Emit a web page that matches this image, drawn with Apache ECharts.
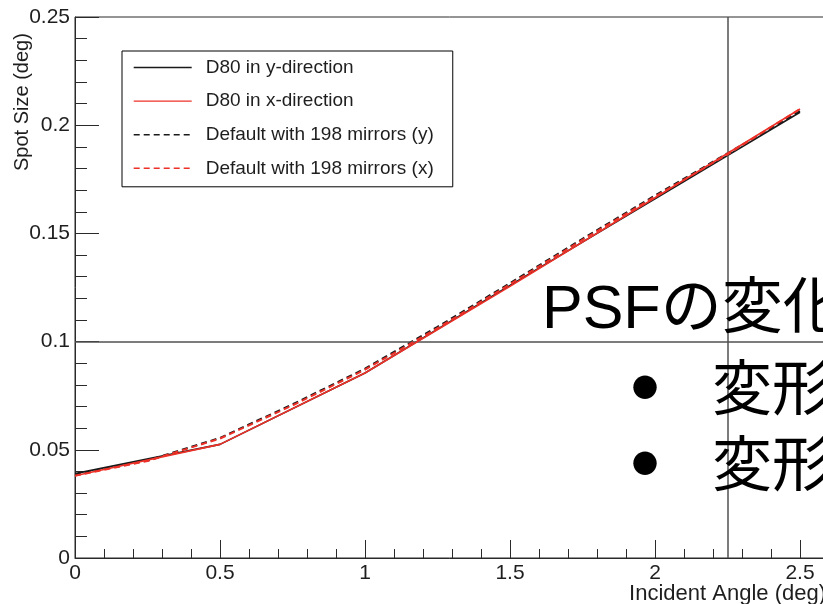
<!DOCTYPE html>
<html>
<head>
<meta charset="utf-8">
<script src="https://cdn.jsdelivr.net/npm/echarts@6/dist/echarts.min.js"></script>
<style>
html,body{margin:0;padding:0;background:#fff;}
#chart{width:823px;height:604px;}
</style>
</head>
<body>
<div id="chart"></div>
<script>
// ---- data ----
const seriesNames = ['D80 in y-direction', 'D80 in x-direction', 'Default with 198 mirrors (y)', 'Default with 198 mirrors (x)'];
const d80Angles = [0, 0.5, 1, 1.5, 2, 2.5];
const d80Y = [0.039, 0.0525, 0.0855, 0.126, 0.166, 0.206];
const d80X = [0.038, 0.0525, 0.0855, 0.1255, 0.1665, 0.2075];
const defAngles = [0, 0.25, 0.5, 0.75, 1, 1.25, 1.5, 1.75, 2, 2.25, 2.5];
const defY = [0.0385, 0.045, 0.0555, 0.071, 0.0875, 0.1068, 0.127, 0.1475, 0.1675, 0.187, 0.2065];
const defX = [0.038, 0.0448, 0.0552, 0.0705, 0.087, 0.1062, 0.1265, 0.147, 0.167, 0.1865, 0.2075];
const crossX = 2.25;
const crossY = 0.1;
const xTitle = 'Incident Angle (deg)';
const yTitle = 'Spot Size (deg)';
const overlayTitle = 'PSFの変化';
const overlayBullets = ['変形', '変形'];

const zip = (xs, ys) => xs.map((x, i) => [x, ys[i]]);
const BLACK = '#1a1a1a';
const RED = '#ee3128';
const FONT = "'Liberation Sans', Arial, sans-serif";

const chart = echarts.init(document.getElementById('chart'), null, {renderer: 'canvas'});

const axisCommon = {
  type: 'value',
  splitLine: {show: false},
  axisLine: {show: true, onZero: false, lineStyle: {color: '#2a2a2a', width: 1}},
};

const option = {
  animation: false,
  backgroundColor: '#ffffff',
  grid: {left: 75, top: 17, width: 870, height: 541, outerBoundsMode: 'none', containLabel: false,
    show: true, borderColor: '#2a2a2a', borderWidth: 1, backgroundColor: 'transparent'},
  xAxis: Object.assign({}, axisCommon, {
    min: 0, max: 3, interval: 0.5,
    axisTick: {show: true, inside: true, length: 18, lineStyle: {color: '#2a2a2a', width: 1}},
    minorTick: {show: true, splitNumber: 5, length: 9, lineStyle: {color: '#2a2a2a', width: 1}},
    axisLabel: {color: '#1e1e1e', fontSize: 21, fontFamily: FONT, margin: 5}
  }),
  yAxis: Object.assign({}, axisCommon, {
    min: 0, max: 0.25, interval: 0.05,
    axisTick: {show: true, inside: true, length: 24, lineStyle: {color: '#2a2a2a', width: 1}},
    minorTick: {show: true, splitNumber: 5, length: 12, lineStyle: {color: '#2a2a2a', width: 1}},
    axisLabel: {color: '#1e1e1e', fontSize: 21, fontFamily: FONT, margin: 5}
  }),
  legend: {
    data: seriesNames,
    orient: 'vertical',
    left: 122, top: 51,
    itemWidth: 58, itemHeight: 18, itemGap: 14.6,
    padding: [7, 19, 9, 11],
    borderColor: '#000', borderWidth: 1, borderRadius: 0,
    backgroundColor: '#fff',
    selectedMode: false,
    itemStyle: {opacity: 0, color: 'transparent', borderWidth: 0},
    lineStyle: {width: 1.4},
    textStyle: {fontSize: 19, color: '#1e1e1e', fontFamily: FONT, padding: [0, 0, 0, 9]}
  },
  series: [
    {
      name: seriesNames[0], type: 'line', data: zip(d80Angles, d80Y), symbol: 'none', z: 3,
      lineStyle: {color: BLACK, width: 1.6}, itemStyle: {color: BLACK},
      markLine: {
        silent: true, symbol: 'none', animation: false,
        label: {show: false},
        lineStyle: {color: '#505050', width: 1.5, type: 'solid'},
        data: [{xAxis: crossX}, {yAxis: crossY}]
      }
    },
    {
      name: seriesNames[1], type: 'line', data: zip(d80Angles, d80X), symbol: 'none', z: 5,
      lineStyle: {color: RED, width: 1.6}, itemStyle: {color: RED}
    },
    {
      name: seriesNames[2], type: 'line', data: zip(defAngles, defY), symbol: 'none', z: 4,
      lineStyle: {color: BLACK, width: 2, type: [6, 4]}, itemStyle: {color: BLACK}
    },
    {
      name: seriesNames[3], type: 'line', data: zip(defAngles, defX), symbol: 'none', z: 6,
      lineStyle: {color: RED, width: 2, type: [6, 4]}, itemStyle: {color: RED}
    }
  ],
  graphic: [
    {type: 'text', x: 826, y: 594, z: 50,
      style: {text: xTitle, fill: '#1e1e1e', font: '22px ' + FONT, textAlign: 'right', textVerticalAlign: 'middle'}},
    {type: 'text', x: 22, y: 171, rotation: Math.PI / 2, z: 50,
      style: {text: yTitle, fill: '#1e1e1e', font: '20px ' + FONT, textAlign: 'left', textVerticalAlign: 'middle'}},
    {type: 'text', x: 542, y: 311, z: 60,
      style: {text: overlayTitle, fill: '#000', font: "61px 'Liberation Sans', 'Noto Sans CJK JP', sans-serif", textAlign: 'left', textVerticalAlign: 'middle'}},
    {type: 'text', x: 645, y: 387, z: 60,
      style: {text: '●', fill: '#000', font: "26px 'Noto Sans CJK JP', sans-serif", textAlign: 'center', textVerticalAlign: 'middle'}},
    {type: 'text', x: 712, y: 387, z: 60,
      style: {text: overlayBullets[0], fill: '#000', font: "60px 'Noto Sans CJK JP', sans-serif", textAlign: 'left', textVerticalAlign: 'middle'}},
    {type: 'text', x: 645, y: 463, z: 60,
      style: {text: '●', fill: '#000', font: "26px 'Noto Sans CJK JP', sans-serif", textAlign: 'center', textVerticalAlign: 'middle'}},
    {type: 'text', x: 712, y: 463, z: 60,
      style: {text: overlayBullets[1], fill: '#000', font: "60px 'Noto Sans CJK JP', sans-serif", textAlign: 'left', textVerticalAlign: 'middle'}}
  ]
};

chart.setOption(option);
</script>
</body>
</html>
